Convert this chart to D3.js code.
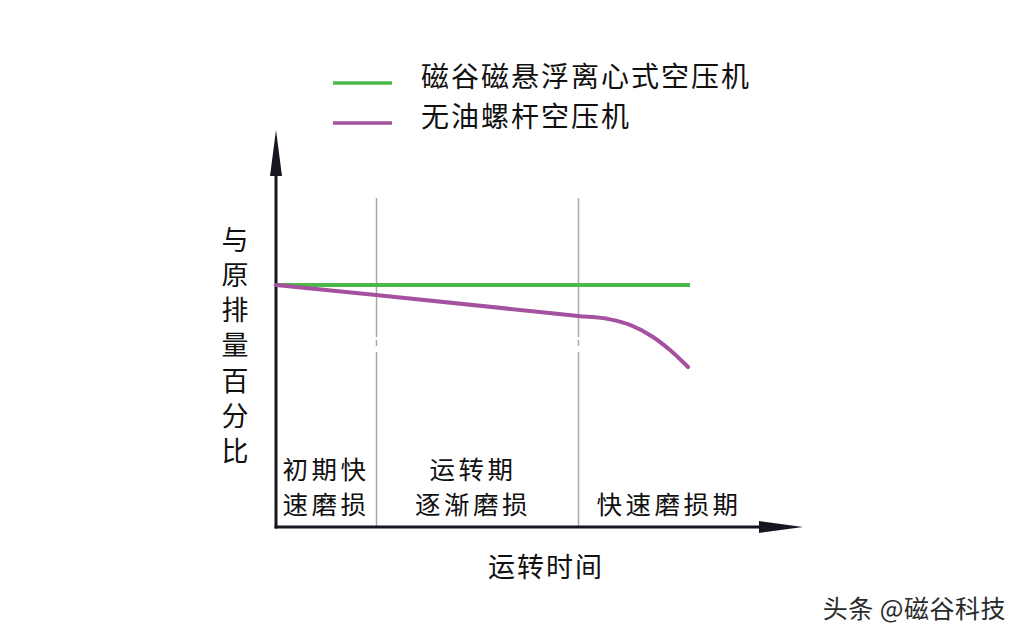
<!DOCTYPE html>
<html><head><meta charset="utf-8">
<script src="https://cdn.jsdelivr.net/npm/d3@7/dist/d3.min.js"></script>
<style>
html,body{margin:0;padding:0;background:#fff;}
svg{display:block;font-family:"Noto Sans CJK SC","Noto Sans",sans-serif;}
</style></head>
<body><svg id="c" width="1024" height="641"></svg>
<script>
// ---- data ----
const seriesNames = ["磁谷磁悬浮离心式空压机", "无油螺杆空压机"];
const seriesColors = ["#4db848", "#a4519f"];
const greenTime = [0, 20.7];
const greenValue = [100, 100];
const purpleTime = [0, 5, 15.1, 16.7, 17.7, 18.85, 19.7, 20.6];
const purpleValue = [100, 95.9, 87.2, 85.8, 83.5, 78.5, 73.1, 66.1];
const phaseBounds = [5, 15.1];
const phaseLabels = [["初期快", "速磨损"], ["运转期", "逐渐磨损"], ["快速磨损期"]];
const yAxisLabel = "与原排量百分比";
const xAxisLabel = "运转时间";
const watermark = "头条 @磁谷科技";

const svg = d3.select("#c");
const x = d3.scaleLinear().domain([0, 26.3]).range([276, 802]);
const y = d3.scaleLinear().domain([0, 100]).range([527, 285]);
const ink = "#16161e";

// phase divider lines
phaseBounds.forEach(b => {
  const px = Math.round(x(b)) + 0.5;
  [[198, 337], [340, 346], [352, 527]].forEach(s => {
    svg.append("line").attr("x1", px).attr("x2", px).attr("y1", s[0]).attr("y2", s[1])
      .attr("stroke", "#a8a8a8").attr("stroke-width", 1.5);
  });
});

// axes
svg.append("line").attr("x1", x(0)).attr("x2", x(0)).attr("y1", 172).attr("y2", 528.5)
  .attr("stroke", ink).attr("stroke-width", 3);
svg.append("line").attr("x1", x(0) - 1.5).attr("x2", 762).attr("y1", 527).attr("y2", 527)
  .attr("stroke", ink).attr("stroke-width", 3);
svg.append("path").attr("d", `M${x(0)},130 L${x(0) - 6},176 L${x(0) + 6},176 Z`).attr("fill", ink);
svg.append("path").attr("d", `M803,527 L759,521 L759,533 Z`).attr("fill", ink);

// series
const line = d3.line().x(d => x(d[0])).y(d => y(d[1]));
svg.append("path").datum(greenTime.map((t, i) => [t, greenValue[i]]))
  .attr("d", line).attr("fill", "none").attr("stroke", seriesColors[0]).attr("stroke-width", 4);
svg.append("path").datum(purpleTime.map((t, i) => [t, purpleValue[i]]))
  .attr("d", line.curve(d3.curveMonotoneX)).attr("fill", "none")
  .attr("stroke", seriesColors[1]).attr("stroke-width", 4).attr("stroke-linecap", "round");

// legend
seriesNames.forEach((n, i) => {
  const ly = 83 + i * 40;
  svg.append("line").attr("x1", 333).attr("x2", 392).attr("y1", ly).attr("y2", ly)
    .attr("stroke", seriesColors[i]).attr("stroke-width", 3.5);
  svg.append("text").attr("x", 421).attr("y", ly - 8).attr("dominant-baseline", "central")
    .attr("font-size", 28).attr("letter-spacing", 2).attr("fill", "#111").text(n);
});

// y axis label (vertical)
Array.from(yAxisLabel).forEach((ch, i) => {
  svg.append("text").attr("x", 235).attr("y", 238 + i * 35.3).attr("text-anchor", "middle")
    .attr("dominant-baseline", "central").attr("font-size", 27).attr("fill", "#111").text(ch);
});

// phase labels
const phaseLineY = [[467, 502], [467, 502], [502]];
const phaseCx = [326, 473, 669];
phaseLabels.forEach((lines, i) => {
  lines.forEach((t, j) => {
    svg.append("text").attr("x", phaseCx[i]).attr("y", phaseLineY[i][j]).attr("text-anchor", "middle")
      .attr("dominant-baseline", "central").attr("font-size", 25.5).attr("letter-spacing", 3.5)
      .attr("fill", "#111").text(t);
  });
});

// x axis label
svg.append("text").attr("x", 546).attr("y", 565).attr("text-anchor", "middle")
  .attr("dominant-baseline", "central").attr("font-size", 27).attr("letter-spacing", 2)
  .attr("fill", "#111").text(xAxisLabel);

// watermark
svg.append("text").attr("x", 1006).attr("y", 607).attr("text-anchor", "end")
  .attr("dominant-baseline", "central").attr("font-size", 25).attr("letter-spacing", 0.5)
  .attr("fill", "#2a2a2a").text(watermark);
</script></body></html>
